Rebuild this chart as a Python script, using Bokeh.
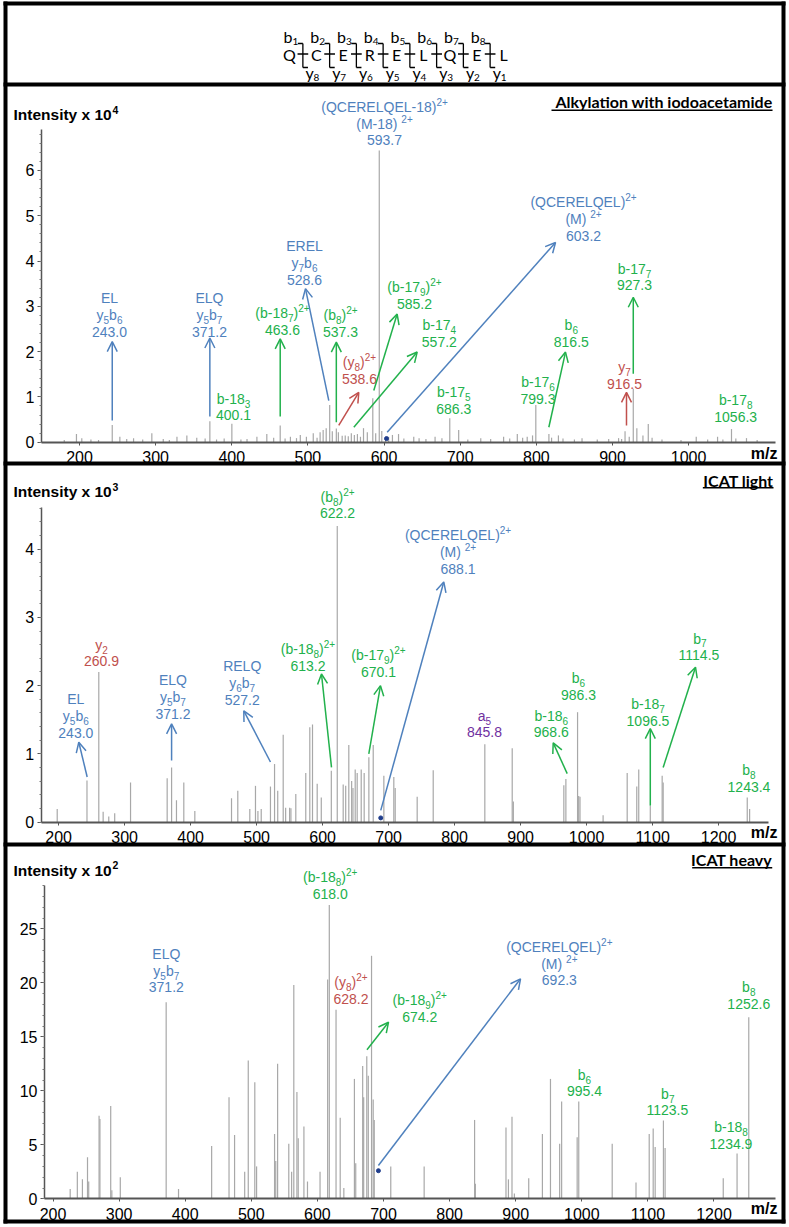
from bokeh.plotting import figure
from bokeh.models import Range1d, Arrow, OpenHead, ColumnDataSource, FixedTicker, LinearAxis
from bokeh.core.properties import value
from bokeh.embed import file_html
from bokeh.resources import INLINE

BLUE = "#4F81BD"; GREEN = "#22B14C"; RED = "#C0504D"; PURPLE = "#7030A0"
DOT = "#1F3D8C"; PEAK = "#a8a8a8"; AXC = "#555555"
COL = {"B": BLUE, "G": GREEN, "R": RED, "P": PURPLE}
SHIFT = 0.36  # baseline correction, fraction of font size

# ---------------- data ----------------
residues = ["Q", "C", "E", "R", "E", "L", "Q", "E", "L"]
b_ions = ["b_1", "b_2", "b_3", "b_4", "b_5", "b_6", "b_7", "b_8"]
y_ions = ["y_8", "y_7", "y_6", "y_5", "y_4", "y_3", "y_2", "y_1"]

p1_mz = [180, 196, 203, 215, 225, 243.0, 253, 262, 271, 283, 295, 310, 318, 328, 341, 354, 365, 371.2,
         380, 390, 400.1, 412, 420, 433, 446, 455, 463.6, 470, 477, 485, 490, 498, 507, 512, 516, 520,
         524, 528.6, 532, 537.3, 540, 545, 549, 553, 557, 561, 565, 569, 573, 578, 585.2, 589, 593.7,
         597, 602, 606, 611, 619, 626, 639, 646, 655, 667, 676, 686.3, 698, 710, 727, 740, 757, 765,
         775, 782, 788, 795, 799.3, 816.5, 820, 829, 835, 850, 860, 880, 895, 908, 912, 916.5, 922,
         927.3, 932, 940, 947, 952, 965, 990, 1010, 1025, 1038, 1045, 1056.3, 1062, 1076, 1090]
p1_int = [0.05, 0.18, 0.09, 0.06, 0.05, 0.38, 0.12, 0.07, 0.09, 0.06, 0.20, 0.07, 0.05, 0.12, 0.15, 0.10,
          0.08, 0.46, 0.06, 0.08, 0.41, 0.06, 0.07, 0.12, 0.18, 0.10, 0.37, 0.08, 0.12, 0.09, 0.16, 0.12,
          0.20, 0.10, 0.22, 0.27, 0.31, 0.82, 0.24, 0.30, 0.22, 0.14, 0.15, 0.13, 0.20, 0.16, 0.18, 0.12,
          0.31, 0.22, 0.97, 0.20, 6.44, 0.25, 0.10, 0.12, 0.16, 0.18, 0.08, 0.12, 0.09, 0.07, 0.12, 0.09,
          0.53, 0.27, 0.06, 0.09, 0.07, 0.12, 0.08, 0.18, 0.10, 0.12, 0.15, 0.82, 0.18, 0.10, 0.15, 0.08,
          0.06, 0.09, 0.06, 0.07, 0.09, 0.07, 0.24, 0.12, 1.18, 0.31, 0.15, 0.40, 0.10, 0.06, 0.05, 0.12,
          0.06, 0.12, 0.06, 0.29, 0.08, 0.09, 0.05]

p2_mz = [197.9, 243.0, 260.9, 267.5, 276, 285, 309, 364.5, 371.2, 378.6, 389.7, 406.4, 462, 471.5,
         489.7, 498.3, 502, 507, 521, 527.2, 532, 540.3, 544, 550, 552, 559.4, 574.5, 580.6, 584.7,
         591.8, 598, 613.2, 622.2, 631.2, 635, 639.7, 644, 646, 649.4, 652.4, 658.5, 663, 670.1, 676.7,
         692.8, 707.9, 710, 743.3, 767.6, 845.8, 887.3, 889, 965.5, 968.6, 986.3, 988, 990, 1025,
         1061.5, 1076, 1079, 1096.5, 1114.5, 1116, 1243.4, 1247]
p2_int = [0.19, 0.61, 2.20, 0.15, 0.08, 0.13, 0.58, 0.64, 0.80, 0.32, 0.58, 0.16, 0.35, 0.46, 0.19,
          0.53, 0.16, 0.19, 0.52, 0.85, 0.46, 1.28, 0.21, 0.21, 0.20, 0.41, 0.72, 1.39, 1.43, 0.56,
          0.36, 0.75, 4.34, 0.55, 0.53, 1.13, 0.60, 0.50, 0.77, 0.72, 0.77, 0.72, 0.95, 1.13, 0.68,
          0.66, 0.50, 0.37, 0.76, 1.14, 1.08, 0.30, 0.54, 0.63, 1.61, 0.38, 0.37, 0.10, 0.72, 0.52,
          0.77, 0.24, 0.68, 0.58, 0.36, 0.19]

p3_mz = [226, 236.8, 244.5, 252.2, 254, 269.7, 271, 287.3, 289, 301.8, 371.2, 389.9, 440, 466.3,
         474.7, 490, 495.4, 505.3, 508, 535.2, 537, 539.8, 556.7, 561, 564.3, 569, 571, 579.6, 585,
         604, 615.5, 618.0, 628.2, 634.5, 640, 656, 658, 668.5, 670, 674.7, 677, 681.9, 684.4, 686,
         711, 761.5, 837.8, 839, 885.3, 889, 894.4, 898, 919.7, 940.4, 952.6, 966.5, 969.5, 993,
         995.4, 1046, 1082, 1102, 1108, 1111, 1123.5, 1126, 1214, 1234.9, 1252.6]
p3_int = [0.9, 2.5, 1.8, 3.85, 1.6, 7.7, 7.4, 8.6, 0.8, 2.0, 18.2, 0.9, 4.9, 9.4, 5.9, 2.5, 12.8,
          10.8, 3.0, 6.0, 3.5, 12.5, 5.1, 2.5, 19.8, 9.9, 5.6, 6.7, 1.6, 2.5, 20.3, 27.2, 17.5, 7.5,
          1.0, 11.1, 3.3, 12.3, 9.4, 13.2, 11.4, 22.5, 9.2, 7.3, 3.0, 3.0, 7.3, 1.4, 6.6, 1.8, 7.6,
          0.5, 1.9, 6.0, 11.1, 5.1, 9.0, 5.7, 9.0, 5.1, 1.5, 6.0, 6.5, 4.8, 7.25, 4.7, 1.9, 4.2, 16.8]

precursor_mz = [603.2, 688.1, 692.3]
precursor_y = [0.08, 0.06, 2.6]

p1_xticks = [200, 300, 400, 500, 600, 700, 800, 900, 1000]
p2_xticks = [200, 300, 400, 500, 600, 700, 800, 900, 1000, 1100, 1200]
p3_xticks = [200, 300, 400, 500, 600, 700, 800, 900, 1000, 1100, 1200]
p1_yticks = [0, 1, 2, 3, 4, 5, 6]
p2_yticks = [0, 1, 2, 3, 4]
p3_yticks = [0, 5, 10, 15, 20, 25]

# annotations: (lines, m/z, intensity of last baseline, colour)
p1_labels = [
    (["(QCERELQEL-18)^{2+}", "(M-18) ^{2+}", "593.7"], 600.6, 6.55, "B"),
    (["(QCERELQEL)^{2+}", "(M) ^{2+}", "603.2"], 862.0, 4.45, "B"),
    (["EL", "y_5b_6", "243.0"], 239.4, 2.32, "B"),
    (["ELQ", "y_5b_7", "371.2"], 370.7, 2.32, "B"),
    (["b-18_3", "400.1"], 402.3, 0.48, "G"),
    (["(b-18_7)^{2+}", "463.6"], 466.6, 2.36, "G"),
    (["(b_8)^{2+}", "537.3"], 542.8, 2.33, "G"),
    (["(y_8)^{2+}", "538.6"], 567.7, 1.29, "R"),
    (["EREL", "y_7b_6", "528.6"], 495.5, 3.48, "B"),
    (["(b-17_9)^{2+}", "585.2"], 640.0, 2.94, "G"),
    (["b-17_4", "557.2"], 672.6, 2.10, "G"),
    (["b-17_5", "686.3"], 691.6, 0.63, "G"),
    (["b-17_6", "799.3"], 802.2, 0.85, "G"),
    (["b_6", "816.5"], 845.9, 2.10, "G"),
    (["y_7", "916.5"], 915.8, 1.18, "R"),
    (["b-17_7", "927.3"], 928.9, 3.35, "G"),
    (["b-17_8", "1056.3"], 1061.8, 0.44, "G"),
]
p1_arrows = [
    (243.0, 0.48, 243.0, 2.22, "B"), (371.2, 0.57, 371.2, 2.30, "B"),
    (463.6, 0.57, 463.6, 2.28, "G"), (537.3, 0.44, 537.3, 2.21, "G"),
    (540.5, 0.37, 566.8, 1.10, "R"), (527.4, 0.92, 496.8, 3.39, "B"),
    (586.5, 1.14, 617.2, 2.83, "G"), (560.3, 0.33, 643.5, 1.99, "G"),
    (816.4, 0.33, 838.3, 1.99, "G"), (918.4, 0.37, 918.4, 1.10, "R"),
    (927.3, 1.51, 927.3, 3.20, "G"), (604.1, 0.22, 825.2, 4.41, "B"),
]
p2_labels = [
    (["(b_8)^{2+}", "622.2"], 622.6, 4.45, "G"),
    (["y_2", "260.9"], 265.0, 2.28, "R"),
    (["EL", "y_5b_6", "243.0"], 226.1, 1.23, "B"),
    (["ELQ", "y_5b_7", "371.2"], 373.3, 1.51, "B"),
    (["RELQ", "y_6b_7", "527.2"], 478.2, 1.72, "B"),
    (["(b-18_8)^{2+}", "613.2"], 577.9, 2.22, "G"),
    (["(b-17_9)^{2+}", "670.1"], 684.7, 2.13, "G"),
    (["(QCERELQEL)^{2+}", "(M) ^{2+}", "688.1"], 805.2, 3.64, "B"),
    (["a_5", "845.8"], 845.3, 1.24, "P"),
    (["b-18_6", "968.6"], 946.5, 1.24, "G"),
    (["b_6", "986.3"], 987.7, 1.79, "G"),
    (["b-18_7", "1096.5"], 1093.0, 1.41, "G"),
    (["b_7", "1114.5"], 1171.8, 2.37, "G"),
    (["b_8", "1243.4"], 1246.0, 0.44, "G"),
]
p2_arrows = [
    (243.3, 0.66, 230.6, 1.17, "B"), (371.2, 0.90, 371.2, 1.44, "B"),
    (521.0, 0.88, 480.6, 1.63, "B"), (613.5, 0.80, 598.3, 2.17, "G"),
    (670.0, 1.00, 687.7, 2.00, "G"), (688.1, 0.17, 783.6, 3.52, "B"),
    (970.6, 0.71, 949.4, 1.16, "G"), (1096.5, 0.24, 1096.5, 1.37, "G"),
    (1116.0, 0.80, 1165.0, 2.27, "G"),
]
p3_labels = [
    (["(b-18_8)^{2+}", "618.0"], 619.4, 27.8, "G"),
    (["ELQ", "y_5b_7", "371.2"], 371.4, 19.1, "B"),
    (["(y_8)^{2+}", "628.2"], 650.8, 18.06, "R"),
    (["(b-18_9)^{2+}", "674.2"], 754.8, 16.35, "G"),
    (["(QCERELQEL)^{2+}", "(M) ^{2+}", "692.3"], 966.0, 19.75, "B"),
    (["b_6", "995.4"], 1004.0, 9.47, "G"),
    (["b_7", "1123.5"], 1130.1, 7.71, "G"),
    (["b-18_8", "1234.9"], 1225.7, 4.63, "G"),
    (["b_8", "1252.6"], 1252.6, 17.6, "G"),
]
p3_arrows = [
    (675.0, 13.8, 707.6, 16.35, "G"), (692.3, 3.08, 907.3, 20.37, "B"),
]

# ---------------- helpers ----------------
ARIAL = {c: 0.556 for c in "0123456789"}
ARIAL.update({".": 0.278, "(": 0.333, ")": 0.333, "-": 0.333, "+": 0.584, " ": 0.278,
              "b": 0.556, "y": 0.5, "a": 0.556, "E": 0.667, "L": 0.556, "Q": 0.778,
              "C": 0.722, "R": 0.722, "M": 0.833})
LATO = {c: 0.58 for c in "0123456789"}
LATO.update({"b": 0.57, "y": 0.50})


def parse(s):
    runs, buf, i = [], "", 0
    while i < len(s):
        c = s[i]
        if c in "_^":
            if buf:
                runs.append((buf, "n")); buf = ""
            kind = "sub" if c == "_" else "sup"
            if s[i + 1] == "{":
                j = s.index("}", i)
                runs.append((s[i + 2:j], kind)); i = j + 1
            else:
                runs.append((s[i + 1], kind)); i += 2
        else:
            buf += c; i += 1
    if buf:
        runs.append((buf, "n"))
    return runs


def add_runs(store, lines, x, y, color, size=14, small=10, lh=16.8, table=ARIAL, sub=3.5, sup=-6.5):
    n = len(lines)
    for li, line in enumerate(lines):
        runs = parse(line)
        ws = [sum(table.get(ch, 0.6) for ch in t) * (size if k == "n" else small) for t, k in runs]
        cx = -sum(ws) / 2.0
        base = -(n - 1 - li) * lh
        for (t, k), w in zip(runs, ws):
            fs = size if k == "n" else small
            dy = 0 if k == "n" else (sub if k == "sub" else sup)
            store["x"].append(x); store["y"].append(y); store["text"].append(t)
            store["xo"].append(cx); store["yo"].append(base + dy - SHIFT * fs)
            store["fs"].append("%gpx" % fs); store["c"].append(color)
            cx += w


def new_store():
    return {k: [] for k in ["x", "y", "text", "xo", "yo", "fs", "c"]}


# ---------------- one canvas for the whole page ----------------
W, H = 787, 1225
p = figure(width=W, height=H, x_range=Range1d(0, W), y_range=Range1d(H, 0),
           toolbar_location=None, output_backend="svg", min_border=0,
           x_axis_location=None, y_axis_location=None)
p.grid.visible = False
p.outline_line_color = None
p.extra_x_ranges = {"xt": Range1d(-10.804, 18.617), "x1": Range1d(96.24, 1129.86),
                    "x2": Range1d(111.97, 1304.39), "x3": Range1d(120.57, 1311.20)}
p.extra_y_ranges = {"yt": Range1d(-64.72, 3.333), "y1": Range1d(-17.291, 9.7506),
                    "y2": Range1d(-5.9164, 12.0455), "y3": Range1d(-2.4722, 110.954)}

# panel frames (page pixels): left, right, top, bottom bands and three separators
band_left = [3, 781, 3, 3, 3, 3, 3]
band_right = [7, 785, 785, 785, 785, 785, 785]
band_top = [1, 1, 1, 1219, 82, 461, 842]
band_bottom = [1223, 1223, 5, 1223, 86, 465, 846]
p.quad(left=band_left, right=band_right, top=band_top, bottom=band_bottom,
       fill_color="black", line_color=None)


def style_axis(ax, tick_out, minor_out, standoff, lw):
    ax.axis_line_color = AXC
    ax.axis_line_width = lw
    ax.major_tick_line_color = AXC
    ax.minor_tick_line_color = "#777777"
    ax.major_label_text_font = "Liberation Sans"
    ax.major_label_text_font_size = "16px"
    ax.major_label_text_color = "black"
    ax.major_tick_in = 0
    ax.minor_tick_in = 0
    ax.major_tick_out = tick_out
    ax.minor_tick_out = minor_out
    ax.major_label_standoff = standoff


def spectrum(k, xticks, xb, yticks, yminor, ytop, mz, inten, labels, arrows, dot_i):
    xr, yr = "x" + k, "y" + k
    p.segment(x0="mz", y0=0, x1="mz", y1="inten", source=ColumnDataSource(dict(mz=mz, inten=inten)),
              line_color=PEAK, line_width=1.2, x_range_name=xr, y_range_name=yr)
    xa = LinearAxis(x_range_name=xr, y_range_name=yr, fixed_location=0, bounds=xb,
                    ticker=FixedTicker(ticks=xticks, minor_ticks=[]))
    style_axis(xa, 3, 0, 6, 2)
    p.add_layout(xa, "below")
    ya = LinearAxis(x_range_name=xr, y_range_name=yr, fixed_location=xb[0], bounds=(0, ytop),
                    ticker=FixedTicker(ticks=yticks, minor_ticks=yminor))
    style_axis(ya, 4, 2, 3, 1.5)
    p.add_layout(ya, "left")
    p.scatter(x=[precursor_mz[dot_i]], y=[precursor_y[dot_i]], size=4, color=DOT,
              x_range_name=xr, y_range_name=yr)
    st = new_store()
    for lines, x, y, c in labels:
        add_runs(st, lines, x, y, COL[c])
    p.text(x="x", y="y", text="text", x_offset="xo", y_offset="yo", text_font_size="fs",
           text_color="c", text_align="left", text_baseline="alphabetic",
           text_font=value("Liberation Sans"), source=ColumnDataSource(st),
           x_range_name=xr, y_range_name=yr)
    for key in sorted(set(a[4] for a in arrows)):
        sel = [a for a in arrows if a[4] == key]
        src = ColumnDataSource(dict(x0=[a[0] for a in sel], y0=[a[1] for a in sel],
                                    x1=[a[2] for a in sel], y1=[a[3] for a in sel]))
        p.add_layout(Arrow(end=OpenHead(size=10, line_color=COL[key], line_width=1.5),
                           x_start="x0", y_start="y0", x_end="x1", y_end="y1", source=src,
                           line_color=COL[key], line_width=1.5, x_range_name=xr, y_range_name=yr))


def titles(k, tx, ty, exp, rx, ry, rtext, ux0, uy, mzx, mzy):
    kw = dict(x_range_name="x" + k, y_range_name="y" + k, text_baseline="alphabetic",
              text_color="black", text_font_style="bold")
    p.text(x=[tx], y=[ty], y_offset=-SHIFT * 15.5, text=["Intensity x 10"],
           text_font=value("Liberation Sans"), text_font_size="15.5px", text_align="left", **kw)
    p.text(x=[tx], y=[ty], x_offset=99, y_offset=-7 - SHIFT * 10.5, text=[exp],
           text_font=value("Liberation Sans"), text_font_size="10.5px", text_align="left", **kw)
    p.text(x=[rx], y=[ry], y_offset=-SHIFT * 16, text=[rtext], text_font=value("Lato"),
           text_font_size="16px", text_align="right", **kw)
    p.segment(x0=[ux0], y0=[uy], x1=[rx], y1=[uy], line_color="black", line_width=1.5,
              x_range_name="x" + k, y_range_name="y" + k)
    p.text(x=[mzx], y=[mzy], y_offset=-SHIFT * 16, text=["m/z"], text_font=value("Liberation Sans"),
           text_font_size="16px", text_align="right", **kw)


# ---------------- top diagram ----------------
idx = list(range(len(residues)))
p.text(x=idx, y=[0] * len(idx), y_offset=-SHIFT * 16, text=residues, text_align="center",
       text_baseline="alphabetic", text_font=value("Lato"), text_font_size="16px", text_color="black",
       x_range_name="xt", y_range_name="yt")
stt = new_store()
for i, lab in enumerate(b_ions):
    add_runs(stt, [lab], i + 0.05, 1.0, "black", size=16, small=10, table=LATO, sub=3)
for i, lab in enumerate(y_ions):
    add_runs(stt, [lab], i + 0.86, -1.0, "black", size=16, small=10, table=LATO, sub=2.5)
p.text(x="x", y="y", text="text", x_offset="xo", y_offset="yo", text_font_size="fs", text_color="c",
       text_align="left", text_baseline="alphabetic", text_font=value("Lato"),
       source=ColumnDataSource(stt), x_range_name="xt", y_range_name="yt")
cuts = [i + 0.5 for i in range(len(residues) - 1)]
n = len(cuts)
p.segment(x0=cuts + [c - 0.19 for c in cuts] + cuts + [c - 0.2 for c in cuts],
          y0=[0.944] * n + [0.944] * n + [-0.389] * n + [0.36] * n,
          x1=cuts + cuts + [c + 0.19 for c in cuts] + [c + 0.2 for c in cuts],
          y1=[-0.389] * n + [0.944] * n + [-0.389] * n + [0.36] * n,
          line_color="black", line_width=1.3, x_range_name="xt", y_range_name="yt")

# ---------------- spectra ----------------
spectrum("1", p1_xticks, (150.0, 1114.0), p1_yticks, [t / 5 for t in range(0, 35)], 6.9,
         p1_mz, p1_int, p1_labels, p1_arrows, 0)
titles("1", 113.3, 7.10, "4", 1110.2, 7.39, "Alkylation with iodoacetamide", 819.9, 7.33, 1116.7, -0.38)

spectrum("2", p2_xticks, (173.6, 1275.6), p2_yticks, [t / 5 for t in range(0, 24)], 4.61,
         p2_mz, p2_int, p2_labels, p2_arrows, 1)
titles("2", 131.7, 4.76, "3", 1283.2, 4.93, "ICAT light", 1176.1, 4.90, 1289.2, -0.24)

spectrum("3", p3_xticks, (187.1, 1293.0), p3_yticks, list(range(0, 30)), 29.0,
         p3_mz, p3_int, p3_labels, p3_arrows, 2)
titles("3", 140.2, 29.9, "2", 1288.1, 30.9, "ICAT heavy", 1167.0, 30.66, 1296.1, -1.39)

open("out.html", "w").write(file_html(p, INLINE))
